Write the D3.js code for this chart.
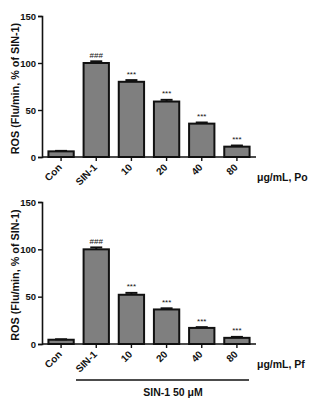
<!DOCTYPE html>
<html><head><meta charset="utf-8">
<script src="https://cdn.jsdelivr.net/npm/d3@7"></script>
<style>body{margin:0;background:#fff}svg{display:block}text{font-family:"Liberation Sans",Arial,sans-serif;font-weight:bold;fill:#111}</style>
</head><body><svg id="c" width="323" height="398"></svg>
<script>
const categories = ["Con","SIN-1","10","20","40","80"];
const poValues = [6, 100, 80, 59, 35.5, 11];
const poErrors = [0.5, 1.8, 1.8, 1.8, 1.2, 1.2];
const pfValues = [4.5, 100, 52, 36.5, 17, 6.5];
const pfErrors = [0.5, 2, 2, 1.2, 0.8, 1];
const sigLabels = ["", "###", "***", "***", "***", "***"];
const yTicks = [0, 50, 100, 150];
const yTitle = "ROS (Flu/min, % of SIN-1)";
const panels = [
  {values: poValues, errors: poErrors, unit: "μg/mL, Po", top: 16, bottom: 157},
  {values: pfValues, errors: pfErrors, unit: "μg/mL, Pf", top: 202, bottom: 344}
];
const svg = d3.select("#c");
const x = d3.scaleBand().domain(categories).range([43.5, 254.5]).paddingInner(0.28).paddingOuter(0.14);
const axL = 42, axR = 256;
panels.forEach(p => {
  const y = d3.scaleLinear().domain([0,150]).range([p.bottom, p.top]);
  const g = svg.append("g");
  const ya = g.append("g").attr("transform", `translate(${axL},0)`)
    .call(d3.axisLeft(y).tickValues(yTicks).tickSize(4).tickPadding(2));
  ya.select(".domain").attr("stroke","#111").attr("stroke-width",1.6);
  ya.selectAll(".tick line").attr("stroke","#111").attr("stroke-width",1.4);
  ya.selectAll(".tick text").attr("font-size",9.5).attr("fill","#111").style("font-family",'"Liberation Sans",Arial,sans-serif').style("font-weight","bold");
  g.selectAll("rect.bar").data(p.values).join("rect")
    .attr("x",(d,i)=>x(categories[i])).attr("width",x.bandwidth())
    .attr("y",d=>y(d)).attr("height",d=>y(0)-y(d))
    .attr("fill","#7f7f7f").attr("stroke","#111").attr("stroke-width",2);
  p.values.forEach((v,i)=>{
    const cx = x(categories[i]) + x.bandwidth()/2;
    const e = p.errors[i];
    g.append("line").attr("x1",cx).attr("x2",cx).attr("y1",y(v)).attr("y2",y(v+e)).attr("stroke","#111").attr("stroke-width",2);
    g.append("line").attr("x1",cx-6).attr("x2",cx+6).attr("y1",y(v+e)).attr("y2",y(v+e)).attr("stroke","#111").attr("stroke-width",2);
    if (sigLabels[i]) g.append("text").attr("x",cx).attr("y",y(v+e)-3.5).attr("text-anchor","middle").attr("font-size",8).style("font-weight","normal").text(sigLabels[i]);
  });
  g.append("line").attr("x1",axL).attr("x2",axR).attr("y1",y(0)).attr("y2",y(0)).attr("stroke","#111").attr("stroke-width",1.6);
  categories.forEach(c=>{
    const cx = x(c) + x.bandwidth()/2;
    g.append("line").attr("x1",cx).attr("x2",cx).attr("y1",y(0)).attr("y2",y(0)+4).attr("stroke","#111").attr("stroke-width",1.4);
    g.append("text").attr("transform",`translate(${cx+1.5},${y(0)+11}) rotate(-45)`).attr("text-anchor","end").attr("font-size",10).text(c);
  });
  g.append("text").attr("x",257).attr("y",y(0)+24).attr("font-size",10.5).text(p.unit);
  g.append("text").attr("transform",`translate(19,${(p.top+p.bottom)/2 + 2}) rotate(-90)`).attr("text-anchor","middle").attr("font-size",10.8).text(yTitle);
});
svg.append("line").attr("x1",76).attr("x2",249).attr("y1",380).attr("y2",380).attr("stroke","#111").attr("stroke-width",1.4);
svg.append("text").attr("x",173).attr("y",396).attr("text-anchor","middle").attr("font-size",10.5).text("SIN-1 50 μM");
</script></body></html>
